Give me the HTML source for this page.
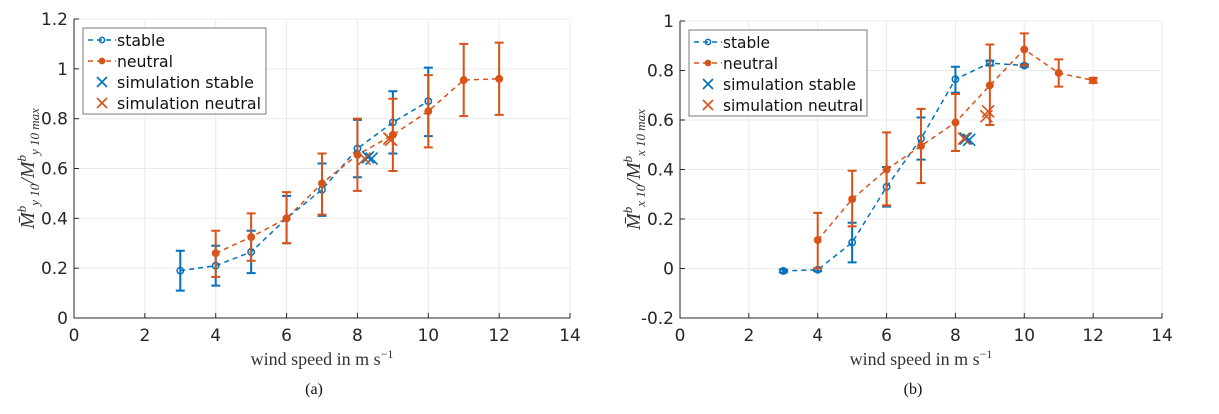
<!DOCTYPE html>
<html><head><meta charset="utf-8"><style>
body{margin:0;background:#fff;width:1219px;height:409px;overflow:hidden;font-family:"Liberation Sans",sans-serif}
svg text{font-family:"DejaVu Sans","Liberation Sans",sans-serif}
.serif{font-family:"Liberation Serif",serif}
</style></head><body>
<svg id="chart" width="1219" height="409"></svg>
<script>
// ---- Panel (a) data ----
const aStableX=[3,4,5,6,7,8,9,10];
const aStableY=[0.19,0.21,0.265,0.40,0.515,0.68,0.785,0.87];
const aStableLo=[0.11,0.13,0.18,0.30,0.41,0.565,0.66,0.73];
const aStableHi=[0.27,0.29,0.35,0.49,0.62,0.795,0.91,1.005];
const aNeutralX=[4,5,6,7,8,9,10,11,12];
const aNeutralY=[0.26,0.325,0.40,0.54,0.655,0.735,0.83,0.955,0.96];
const aNeutralLo=[0.165,0.23,0.30,0.415,0.51,0.59,0.685,0.81,0.815];
const aNeutralHi=[0.35,0.42,0.505,0.66,0.80,0.88,0.975,1.10,1.105];
const aSimStableX=[8.3,8.4];
const aSimStableY=[0.645,0.64];
const aSimNeutralX=[8.2,8.9,8.95];
const aSimNeutralY=[0.64,0.72,0.715];
const aYTicks=[0,0.2,0.4,0.6,0.8,1,1.2];
const aYLabels=["0","0.2","0.4","0.6","0.8","1","1.2"];
// ---- Panel (b) data ----
const bStableX=[3,4,5,6,7,8,9,10];
const bStableY=[-0.01,-0.005,0.105,0.33,0.525,0.765,0.83,0.82];
const bStableLo=[-0.016,-0.011,0.025,0.25,0.44,0.71,0.82,0.815];
const bStableHi=[-0.004,0.001,0.185,0.41,0.61,0.815,0.84,0.825];
const bNeutralX=[4,5,6,7,8,9,10,11,12];
const bNeutralY=[0.115,0.28,0.40,0.495,0.59,0.74,0.885,0.79,0.76];
const bNeutralLo=[0.0,0.17,0.255,0.345,0.475,0.58,0.82,0.735,0.75];
const bNeutralHi=[0.225,0.395,0.55,0.645,0.705,0.905,0.95,0.845,0.77];
const bSimStableX=[8.3,8.4];
const bSimStableY=[0.525,0.52];
const bSimNeutralX=[8.25,8.9,8.95];
const bSimNeutralY=[0.525,0.615,0.635];
const bYTicks=[-0.2,0,0.2,0.4,0.6,0.8,1];
const bYLabels=["-0.2","0","0.2","0.4","0.6","0.8","1"];
const xTicks=[0,2,4,6,8,10,12,14];

const NS="http://www.w3.org/2000/svg";
const svg=document.getElementById('chart');
const BLUE="#0072BD", RED="#D95319";
function mk(tag,attrs,parent){const e=document.createElementNS(NS,tag);for(const k in attrs)e.setAttribute(k,attrs[k]);(parent||svg).appendChild(e);return e;}

function panel(p){
  const g=mk('g',{});
  
  
  const sx=v=>p.x0+(v-0)/14*(p.x1-p.x0);
  const sy=v=>p.yb+(v-p.ymin)/(p.ymax-p.ymin)*(p.yt-p.yb);
  xTicks.forEach(t=>{const l=mk('line',{x1:sx(t),x2:sx(t),y1:p.yt,y2:p.yb,stroke:'#ebebeb','stroke-width':1},g);});
  p.yTicks.forEach(t=>{const l=mk('line',{x1:p.x0,x2:p.x1,y1:sy(t),y2:sy(t),stroke:'#ebebeb','stroke-width':1},g);});
  const ax=mk('path',{d:`M${p.x0},${p.yt}V${p.yb}H${p.x1}`,fill:'none',stroke:'#262626','stroke-width':1},g);
  
  xTicks.forEach(t=>{
    mk('line',{x1:sx(t),x2:sx(t),y1:p.yb,y2:p.yb-5,stroke:'#262626'},g);
    const tx=mk('text',{x:sx(t),y:p.yb+23,'text-anchor':'middle','font-size':17,fill:'#262626'},g);
    tx.textContent=t;
  });
  p.yTicks.forEach((t,i)=>{
    mk('line',{x1:p.x0,x2:p.x0+5,y1:sy(t),y2:sy(t),stroke:'#262626'},g);
    const tx=mk('text',{x:p.x0-6,y:sy(t)+6,'text-anchor':'end','font-size':17,fill:'#262626'},g);
    tx.textContent=p.yLabels[i];
  });
  function series(X,Y,Lo,Hi,col,filled,nm){
    const sg=mk('g',{},g);
    const l=mk('polyline',{points:X.map((x,i)=>sx(x)+','+sy(Y[i])).join(' '),fill:'none',stroke:col,'stroke-width':1.5,'stroke-dasharray':'5,4'},sg);
    
    X.forEach((x,i)=>{
      const cx=sx(x);
      const e=mk('path',{d:`M${cx},${sy(Lo[i])}V${sy(Hi[i])}M${cx-4.5},${sy(Lo[i])}h9M${cx-4.5},${sy(Hi[i])}h9`,stroke:col,'stroke-width':2,fill:'none'},sg);
      
      const c=mk('circle',{cx:cx,cy:sy(Y[i]),r:3.2,fill:filled?col:'none',stroke:col,'stroke-width':1.5},sg);
      
    });
  }
  function crosses(X,Y,col,nm){
    X.forEach((x,i)=>{const cx=sx(x),cy=sy(Y[i]);
      const c=mk('path',{d:`M${cx-6},${cy-6}L${cx+6},${cy+6}M${cx-6},${cy+6}L${cx+6},${cy-6}`,stroke:col,'stroke-width':1.6},g);
      });
  }
  series(p.sX,p.sY,p.sLo,p.sHi,BLUE,false,'stable-series');
  series(p.nX,p.nY,p.nLo,p.nHi,RED,true,'neutral-series');
  crosses(p.ssX,p.ssY,BLUE,'simulation-stable-marker');
  crosses(p.snX,p.snY,RED,'simulation-neutral-marker');
  const lg=mk('g',{},g);
  mk('rect',{x:p.lx,y:p.ly,width:p.lw,height:86,fill:'#fff',stroke:'#7a7a7a','stroke-width':1},lg);
  const items=[['stable',BLUE,'o'],['neutral',RED,'f'],['simulation stable',BLUE,'x'],['simulation neutral',RED,'x']];
  items.forEach((it,i)=>{
    const y=p.ly+12+i*21;const x=p.lx+5;
    if(it[2]!=='x'){mk('line',{x1:x,x2:x+28,y1:y,y2:y,stroke:it[1],'stroke-width':1.5,'stroke-dasharray':'5,4'},lg);
      mk('circle',{cx:x+14,cy:y,r:2.6,fill:it[2]==='f'?it[1]:'none',stroke:it[1],'stroke-width':1.5},lg);}
    else mk('path',{d:`M${x+9},${y-5}l10,10M${x+9},${y+5}l10,-10`,stroke:it[1],'stroke-width':1.6},lg);
    const t=mk('text',{x:x+29,y:y+6,'font-size':16,fill:'#111',textLength:p.tl[i],lengthAdjust:'spacingAndGlyphs'},lg);t.textContent=it[0];
    
  });
  const xl=mk('text',{x:(p.x0+p.x1)/2,y:p.yb+47,'text-anchor':'middle','font-size':18,fill:'#333',class:'serif'},g);
  xl.innerHTML='wind speed in m s<tspan dy="-7" font-size="12">−1</tspan>';
  
  const cap=mk('text',{x:(p.x0+p.x1)/2-8,y:394,'text-anchor':'middle','font-size':16,fill:'#111',class:'serif'},g);
  cap.textContent=p.cap;
  const yl=mk('text',{transform:`translate(${p.x0-40},${(p.yt+p.yb)/2}) rotate(-90)`,'text-anchor':'middle','font-size':20,fill:'#333',class:'serif','font-style':'italic'},g);
  yl.innerHTML=`M̄<tspan dy="-8" font-size="13">b</tspan><tspan dy="13" font-size="13">${p.sub} 10</tspan><tspan dy="-5">/M</tspan><tspan dy="-8" font-size="13">b</tspan><tspan dy="13" font-size="13">${p.sub} 10 max</tspan>`;
  
}
panel({name:'panel-a',x0:74,x1:570,yt:19,yb:318,ymin:0,ymax:1.2,yTicks:aYTicks,yLabels:aYLabels,
  sX:aStableX,sY:aStableY,sLo:aStableLo,sHi:aStableHi,nX:aNeutralX,nY:aNeutralY,nLo:aNeutralLo,nHi:aNeutralHi,
  ssX:aSimStableX,ssY:aSimStableY,snX:aSimNeutralX,snY:aSimNeutralY,lx:83,ly:28,lw:183,cap:'(a)',sub:'y',tl:[48,56,137,144]});
panel({name:'panel-b',x0:680,x1:1162,yt:21,yb:318,ymin:-0.2,ymax:1,yTicks:bYTicks,yLabels:bYLabels,
  sX:bStableX,sY:bStableY,sLo:bStableLo,sHi:bStableHi,nX:bNeutralX,nY:bNeutralY,nLo:bNeutralLo,nHi:bNeutralHi,
  ssX:bSimStableX,ssY:bSimStableY,snX:bSimNeutralX,snY:bSimNeutralY,lx:689,ly:30,lw:178,cap:'(b)',sub:'x',tl:[47,55,133,140]});
</script>
</body></html>
